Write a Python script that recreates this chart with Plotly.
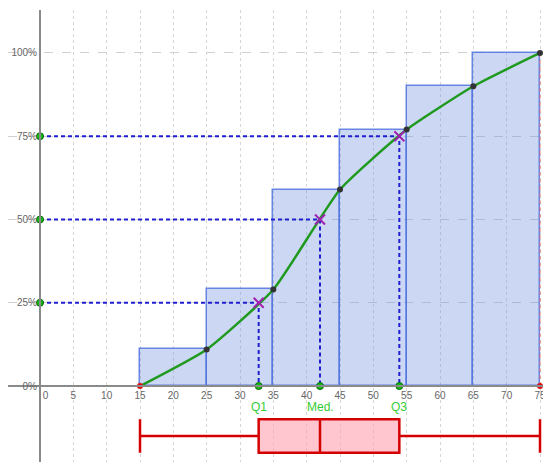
import plotly.graph_objects as go

# ---- data ----
class_lo = [15, 25, 35, 45, 55, 65]
class_hi = [25, 35, 45, 55, 65, 75]
cum_pct = [11, 29, 59, 77, 90, 100]

curve_x = [15, 25, 35, 45, 55, 65, 75]
curve_y = [0, 11, 29, 59, 77, 90, 100]

q_levels = [25, 50, 75]
q_values = [32.8, 42.0, 53.9]
q_labels = ["Q1", "Med.", "Q3"]

box_min = 15
box_max = 75

x_ticks = list(range(0, 80, 5))
x_ticktext = ["\u00a0\u00a0\u00a0\u00a00"] + [str(v) for v in x_ticks[1:]]
y_ticks = [0, 25, 50, 75, 100]
y_ticktext = ["0%", "25%", "50%", "75%", "100%"]

# ---- layout constants (page body adds an 8px margin) ----
W, H = 543, 454
XR = [-4.8, 76.65]
YR = [-22.8, 112.9]

fig = go.Figure()

# histogram of cumulative frequencies
centers = [(a + b) / 2 for a, b in zip(class_lo, class_hi)]
widths = [b - a for a, b in zip(class_lo, class_hi)]
fig.add_trace(go.Bar(
    x=centers, y=cum_pct, width=widths,
    marker=dict(color="rgba(120,150,225,0.38)",
                line=dict(color="rgba(80,115,225,0.85)", width=1.5)),
    hoverinfo="skip", showlegend=False,
))

# red dashed vertical at max
fig.add_trace(go.Scatter(
    x=[box_max, box_max], y=[0, 100], mode="lines",
    line=dict(color="rgba(225,110,110,0.8)", width=1.2, dash="4px,3px"),
    showlegend=False, hoverinfo="skip",
))

# dashed quartile guide lines
for lvl, qv in zip(q_levels, q_values):
    fig.add_trace(go.Scatter(
        x=[0, qv, qv], y=[lvl, lvl, 0], mode="lines",
        line=dict(color="#1f1fd0", width=2, dash="4px,3px"),
        showlegend=False, hoverinfo="skip",
    ))

# cumulative curve
fig.add_trace(go.Scatter(
    x=curve_x, y=curve_y, mode="lines",
    line=dict(color="#1f9a1f", width=2.5, shape="spline", smoothing=0.5),
    showlegend=False, hoverinfo="skip",
))
fig.add_trace(go.Scatter(
    x=curve_x[1:], y=curve_y[1:], mode="markers",
    marker=dict(color="#333333", size=6),
    showlegend=False, hoverinfo="skip",
))

# red end points
fig.add_trace(go.Scatter(
    x=[box_min, box_max], y=[0, 0], mode="markers",
    marker=dict(color="#e01010", size=6),
    showlegend=False, hoverinfo="skip",
))

# quartile crosses
fig.add_trace(go.Scatter(
    x=q_values, y=q_levels, mode="markers",
    marker=dict(symbol="x-thin", color="#a020b0", size=10,
                line=dict(color="#a020b0", width=2)),
    showlegend=False, hoverinfo="skip",
))

# green points on axes
fig.add_trace(go.Scatter(
    x=[0] * len(q_levels) + q_values,
    y=q_levels + [0] * len(q_values),
    mode="markers",
    marker=dict(color="#11bb11", size=7, line=dict(color="#0a6a0a", width=1)),
    showlegend=False, hoverinfo="skip",
))

# box plot
fig.add_trace(go.Box(
    orientation="h", y=[-15],
    q1=[q_values[0]], median=[q_values[1]], q3=[q_values[2]],
    lowerfence=[box_min], upperfence=[box_max],
    width=10, whiskerwidth=1, boxpoints=False,
    line=dict(color="#d40000", width=2.5),
    fillcolor="rgba(255,160,175,0.6)",
    showlegend=False, hoverinfo="skip",
))

# quartile labels
for qv, lab in zip(q_values, q_labels):
    fig.add_annotation(
        x=qv, y=-6.3, xref="x", yref="y", text=lab, showarrow=False,
        font=dict(color="#33cc33", size=12, family="Liberation Sans, Arial"),
    )

xpos = -XR[0] / (XR[1] - XR[0])
ypos = -YR[0] / (YR[1] - YR[0])

fig.update_layout(
    width=W, height=H,
    margin=dict(l=0, r=0, t=2, b=0),
    paper_bgcolor="white", plot_bgcolor="white",
    font=dict(family="Liberation Sans, Arial", size=10, color="#666666"),
    bargap=0,
    xaxis=dict(
        range=XR, anchor="free", position=ypos,
        tickvals=x_ticks, ticktext=x_ticktext,
        showgrid=True, gridcolor="#d6d6d6", griddash="dot", gridwidth=1,
        zeroline=False, showline=True, linecolor="#8a8a8a", linewidth=1.5,
        ticks="", automargin=False, fixedrange=True,
        ticklabeloverflow="allow",
        tickfont=dict(size=10, color="#666666"),
    ),
    yaxis=dict(
        range=YR, anchor="free", position=xpos,
        tickvals=y_ticks, ticktext=y_ticktext,
        showgrid=True, gridcolor="#d0d0d0", griddash="dash", gridwidth=1,
        zeroline=False, showline=True, linecolor="#8a8a8a", linewidth=2,
        ticks="", automargin=False, fixedrange=True,
        ticklabeloverflow="allow",
        tickfont=dict(size=10, color="#666666"),
    ),
)

fig.write_html("out.html")
